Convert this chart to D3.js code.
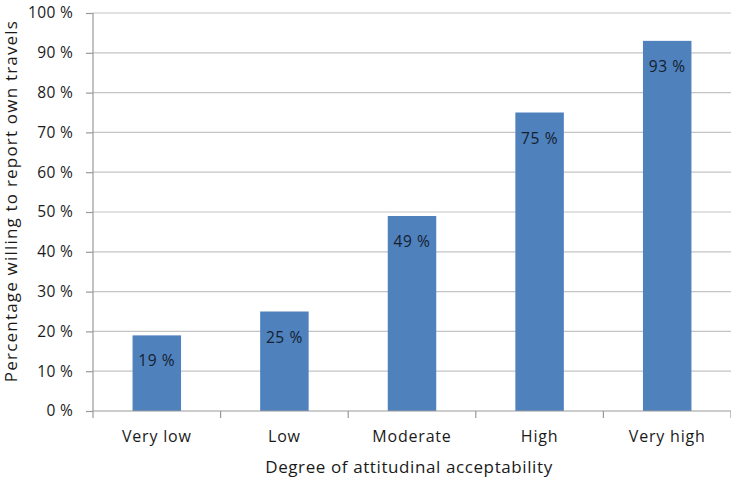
<!DOCTYPE html>
<html><head><meta charset="utf-8">
<script src="https://cdn.jsdelivr.net/npm/d3@7"></script>
<style>body{margin:0;background:#fff}svg{display:block}text{font-family:"Open Sans","Liberation Sans",sans-serif;fill:#1a1a1a}</style>
</head><body><svg id="c" width="731" height="480"></svg>
<script>
const categories = ["Very low","Low","Moderate","High","Very high"];
const values = [19,25,49,75,93];
const yTicks = [0,10,20,30,40,50,60,70,80,90,100];

const svg = d3.select("#c");
const m = {l:93, r:731, t:13, b:411};
const x = d3.scaleBand().domain(categories).range([m.l, m.r]).paddingInner(0.62).paddingOuter(0.31);
const xb = d3.scaleBand().domain(categories).range([m.l, m.r]);
const y = d3.scaleLinear().domain([0,100]).range([m.b, m.t]);

// gridlines
svg.append("g").selectAll("line").data(yTicks.filter(d=>d>0)).join("line")
  .attr("x1", m.l).attr("x2", m.r).attr("y1", d=>y(d)).attr("y2", d=>y(d))
  .attr("stroke","#c4c4c4").attr("stroke-width",1.2);

// bars
svg.append("g").selectAll("rect").data(values).join("rect")
  .attr("x",(d,i)=>x(categories[i])).attr("width",x.bandwidth())
  .attr("y",d=>y(d)).attr("height",d=>y(0)-y(d)).attr("fill","#4f81bd");

// value labels
svg.append("g").selectAll("text").data(values).join("text")
  .attr("x",(d,i)=>x(categories[i])+x.bandwidth()/2).attr("y",d=>y(d)+31)
  .attr("text-anchor","middle").style("font-size","15.5px").style("letter-spacing","0.6px").style("fill","#14202e")
  .text(d=>d+" %");

// y axis
const ya = d3.axisLeft(y).tickValues(yTicks).tickSize(7).tickPadding(13).tickFormat(d=>d+" %");
const gy = svg.append("g").attr("transform",`translate(${m.l},0)`).call(ya);
gy.selectAll("text").style("font-size","15.5px").style("letter-spacing","0.3px");
gy.selectAll("line,path").attr("stroke","#999").attr("stroke-width",1.2);
gy.select("path").attr("d",`M0,${m.t}V${m.b}`);

// x axis
const xa = d3.axisBottom(xb).tickSize(0).tickPadding(20);
const gx = svg.append("g").attr("transform",`translate(0,${m.b})`).call(xa);
gx.selectAll("text").style("font-size","16px").style("letter-spacing","0.8px");
gx.select("path").attr("stroke","#999").attr("stroke-width",1.2).attr("d",`M${m.l},0H${m.r}`);
gx.append("g").selectAll("line").data(categories.concat(["end"])).join("line")
  .attr("x1",(d,i)=>m.l+i*xb.bandwidth()).attr("x2",(d,i)=>m.l+i*xb.bandwidth())
  .attr("y1",0).attr("y2",7).attr("stroke","#999").attr("stroke-width",1.2);

// titles
svg.append("text").attr("x",409).attr("y",473).attr("text-anchor","middle")
  .style("font-size","17px").style("letter-spacing","0.6px").text("Degree of attitudinal acceptability");
svg.append("text").attr("transform","translate(17,201) rotate(-90)").attr("text-anchor","middle")
  .style("font-size","17px").style("letter-spacing","1.2px").text("Percentage willing to report own travels");
</script></body></html>
